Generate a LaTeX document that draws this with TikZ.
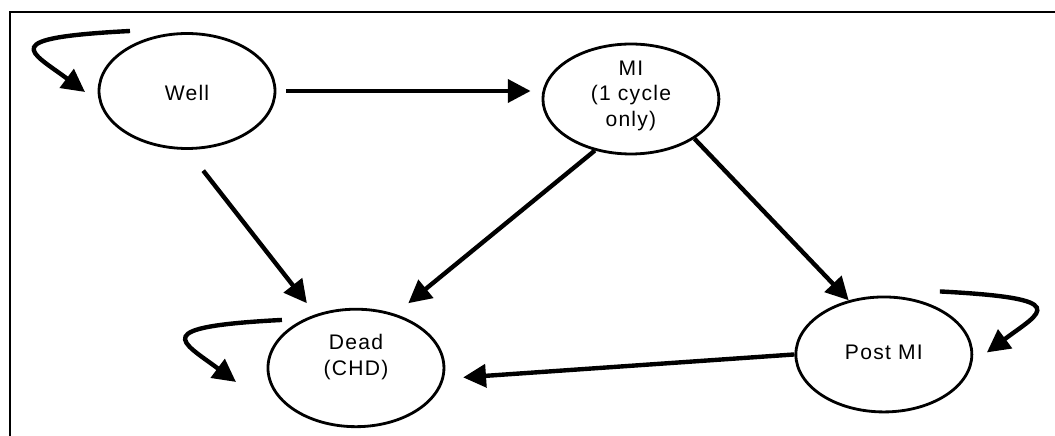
\documentclass[tikz,border=0pt]{standalone}
\usepackage{fontspec}
\setmainfont{Liberation Sans}[LetterSpace=6]
\usetikzlibrary{shapes,arrows.meta,positioning}

\newcommand{\statelabel}[2]{\raisebox{#1}[0pt][0pt]{\begin{tabular}{@{}c@{}}#2\end{tabular}}}

\begin{document}
\begin{tikzpicture}[
    x=0.02cm, y=0.02cm,
    state/.style={ellipse, draw=black, line width=1.6pt, minimum width=3.52cm, minimum height=2.3cm, inner sep=0pt, font=\fontsize{12}{14.5}\selectfont},
    arrow/.style={-{Triangle[length=13pt,width=13pt]}, line width=2.5pt, draw=black},
    frame/.style={draw=black, line width=1.1pt}
]
\clip (0,0) rectangle (1055,436);

% Frame
\draw [frame] (10,-20) rectangle (1080,424);

% States
\node [state] (well) at (187,345) {\statelabel{-5.5pt}{Well}};
\node [state, right of=well, node distance=8.88cm, yshift=-0.16cm, minimum height=2.2cm] (mi) {\statelabel{-1pt}{MI\\(1 cycle\\only)}};
\node [state, below of=well, node distance=5.54cm, xshift=3.38cm, minimum height=2.35cm] (dead) {\statelabel{3pt}{Dead\\(CHD)}};
\node [state, below of=mi, node distance=5.11cm, xshift=5.06cm] (post) {\statelabel{-2.7pt}{Post MI}};

% Loop ends
\coordinate (wellfrom) at ([shift={(-57,60)}]well.center);
\coordinate (wellto) at ([shift={(-102,-1)}]well.center);
\coordinate (deadfrom) at ([shift={(-74,48)}]dead.center);
\coordinate (deadto) at ([shift={(-120,-14)}]dead.center);
\coordinate (postfrom) at ([shift={(56,63)}]post.center);
\coordinate (postto) at ([shift={(103,2)}]post.center);

% Arrows - transitions
\draw [arrow, shorten <=5.7pt, shorten >=6.2pt] (well.east) -- (well.east -| mi.west);
\draw [arrow, shorten <=15pt, shorten >=8pt] (well.south) -- (dead.127);
\draw [arrow, shorten >=9.6pt] (mi.235) -- (dead.54);
\draw [arrow] (mi.328) -- (post.123);
\draw [arrow, shorten >=11pt] (post.west) -- (dead.-7);

% Arrows - staying in a state
\draw [arrow] (wellfrom) .. controls +(-135,-7) and +(-55,41) .. (wellto);
\draw [arrow] (deadfrom) .. controls +(-135,-7) and +(-55,41) .. (deadto);
\draw [arrow] (postfrom) .. controls +(135,-7) and +(55,41) .. (postto);

\end{tikzpicture}
\end{document}
